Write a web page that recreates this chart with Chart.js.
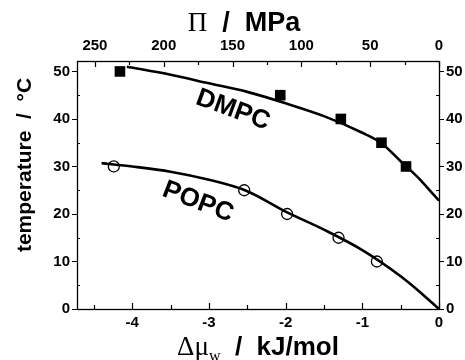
<!DOCTYPE html>
<html>
<head>
<meta charset="utf-8">
<script src="https://cdn.jsdelivr.net/npm/chart.js@4.4.0/dist/chart.umd.min.js"></script>
<style>
  html, body { margin: 0; padding: 0; background: #fff; }
</style>
</head>
<body>
<canvas id="phaseChart" width="465" height="360"></canvas>
<script>
// measured transition temperatures vs water chemical potential (kJ/mol)
const dmpcMu = [-4.16, -2.07, -1.28, -0.75, -0.43];
const dmpcT = [50, 45, 40, 35, 30];
const popcMu = [-4.24, -2.54, -1.98, -1.31, -0.81];
const popcT = [30, 25, 20, 15, 10];

// fitted curves through the measurements
const dmpcFitMu = [-4.07, -3.5, -3.0, -2.5, -2.0, -1.5, -1.0, -0.75, -0.5, -0.25, -0.1, 0];
const dmpcFitT = [51.0, 49.3, 47.5, 45.7, 43.3, 40.6, 37.1, 34.9, 31.1, 27.3, 24.6, 22.8];
const popcFitMu = [-4.40, -4.0, -3.5, -3.0, -2.5, -2.0, -1.5, -1.0, -0.5, -0.25, 0];
const popcFitT = [30.7, 30.0, 28.9, 27.2, 24.8, 20.5, 16.7, 12.4, 6.9, 3.6, 0];

// axis ticks
const muTicks = [-4, -3, -2, -1, 0];
const muMinor = [-4.5, -3.5, -2.5, -1.5, -0.5];
const tempTicks = [0, 10, 20, 30, 40, 50];
const tempMinor = [5, 15, 25, 35, 45];
const piTicks = [250, 200, 150, 100, 50, 0];
const piMinor = [225, 175, 125, 75, 25];

const MU_MIN = -4.72;
const PI_MAX = 263;
const T_MAX = 52.2;

const SANS = '"Liberation Sans", Arial, Helvetica, sans-serif';
const SERIF = '"Liberation Serif", "Times New Roman", serif';

const pts = (xs, ys) => xs.map((x, i) => ({ x: x, y: ys[i] }));
const fixTicks = list => scale => { scale.ticks = list.map(v => ({ value: v })); };

// frame, inward/outward tick marks, axis titles and curve labels
const decorations = {
  id: 'decorations',
  afterDraw(chart) {
    const ctx = chart.ctx;
    const a = chart.chartArea;
    const s = chart.scales;
    ctx.save();
    ctx.strokeStyle = '#000';
    ctx.lineWidth = 1.3;
    ctx.strokeRect(a.left + 0.5, a.top + 0.5, a.right - a.left, a.bottom - a.top);

    ctx.lineWidth = 1.2;
    ctx.beginPath();
    const vTick = (scale, vals, y0, len) => vals.forEach(v => {
      const px = Math.round(scale.getPixelForValue(v)) + 0.5;
      ctx.moveTo(px, y0); ctx.lineTo(px, y0 + len);
    });
    const hTick = (scale, vals, x0, len) => vals.forEach(v => {
      const py = Math.round(scale.getPixelForValue(v)) + 0.5;
      ctx.moveTo(x0, py); ctx.lineTo(x0 + len, py);
    });
    vTick(s.x, muTicks, a.bottom, -6);
    vTick(s.x, muMinor, a.bottom, -4);
    vTick(s.x2, piTicks, a.top, 6);
    vTick(s.x2, piMinor, a.top, 4);
    hTick(s.y, tempTicks, a.left, -5);
    hTick(s.y, tempMinor, a.left, 3);
    hTick(s.y2, tempTicks, a.right, 5);
    hTick(s.y2, tempMinor, a.right, -3);
    ctx.stroke();

    ctx.fillStyle = '#000';
    ctx.textBaseline = 'alphabetic';

    // top title: Π / MPa
    const topParts = [
      { t: 'Π', f: '27px ' + SERIF },
      { t: '  /  MPa', f: 'bold 27px ' + SANS }
    ];
    drawRun(ctx, topParts, 244, 31);

    // bottom title: Δμw / kJ/mol
    const botParts = [
      { t: 'Δμ', f: '27px ' + SERIF },
      { t: 'w', f: '16px ' + SERIF, dy: 6 },
      { t: '  /  kJ/mol', f: 'bold 26px ' + SANS }
    ];
    drawRun(ctx, botParts, 258, 355);

    // left title
    ctx.save();
    ctx.translate(31, 165);
    ctx.rotate(-Math.PI / 2);
    ctx.font = 'bold 21px ' + SANS;
    ctx.textAlign = 'center';
    ctx.fillText('temperature  /  °C', 0, 0);
    ctx.restore();

    // curve labels
    const label = (txt, x, y, deg) => {
      ctx.save();
      ctx.translate(x, y);
      ctx.rotate(deg * Math.PI / 180);
      ctx.font = 'bold 26px ' + SANS;
      ctx.textAlign = 'center';
      ctx.textBaseline = 'middle';
      ctx.fillText(txt, 0, 0);
      ctx.restore();
    };
    label('DMPC', 233, 110, 20);
    label('POPC', 198, 202, 21);
    ctx.restore();
  }
};

// draws mixed-font text centred on cx
function drawRun(ctx, parts, cx, y) {
  let total = 0;
  parts.forEach(p => { ctx.font = p.f; p.w = ctx.measureText(p.t).width; total += p.w; });
  let x = cx - total / 2;
  ctx.textAlign = 'left';
  parts.forEach(p => {
    ctx.font = p.f;
    ctx.fillText(p.t, x, y + (p.dy || 0));
    x += p.w;
  });
}

const tickFont = { family: SANS, size: 15, weight: 'bold' };
const noGrid = { display: false, drawTicks: false };

new Chart(document.getElementById('phaseChart'), {
  type: 'scatter',
  data: {
    datasets: [
      {
        label: 'DMPC fit',
        data: pts(dmpcFitMu, dmpcFitT),
        showLine: true,
        pointRadius: 0,
        borderColor: '#000',
        borderWidth: 2.6,
        cubicInterpolationMode: 'monotone'
      },
      {
        label: 'POPC fit',
        data: pts(popcFitMu, popcFitT),
        showLine: true,
        pointRadius: 0,
        borderColor: '#000',
        borderWidth: 2.6,
        cubicInterpolationMode: 'monotone'
      },
      {
        label: 'DMPC',
        data: pts(dmpcMu, dmpcT),
        pointStyle: 'rect',
        pointRadius: 7.5,
        backgroundColor: '#000',
        borderColor: '#000',
        borderWidth: 0
      },
      {
        label: 'POPC',
        data: pts(popcMu, popcT),
        pointStyle: 'circle',
        pointRadius: 5.5,
        backgroundColor: 'rgba(0,0,0,0)',
        borderColor: '#000',
        borderWidth: 1.3
      }
    ]
  },
  options: {
    responsive: false,
    animation: false,
    events: [],
    layout: { padding: 0 },
    plugins: { legend: { display: false }, tooltip: { enabled: false } },
    scales: {
      x: {
        type: 'linear', position: 'bottom', min: MU_MIN, max: 0,
        afterBuildTicks: fixTicks(muTicks),
        afterFit: s => { s.height = 51; },
        grid: noGrid, border: { display: false },
        ticks: { font: tickFont, color: '#000', padding: 5, maxRotation: 0 }
      },
      x2: {
        type: 'linear', position: 'top', min: 0, max: PI_MAX, reverse: true,
        afterBuildTicks: fixTicks(piTicks),
        afterFit: s => { s.height = 61; },
        grid: noGrid, border: { display: false },
        ticks: { font: tickFont, color: '#000', padding: 6, maxRotation: 0 }
      },
      y: {
        type: 'linear', position: 'left', min: 0, max: T_MAX,
        afterBuildTicks: fixTicks(tempTicks),
        afterFit: s => { s.width = 77; },
        grid: noGrid, border: { display: false },
        ticks: { font: tickFont, color: '#000', padding: 7 }
      },
      y2: {
        type: 'linear', position: 'right', min: 0, max: T_MAX,
        afterBuildTicks: fixTicks(tempTicks),
        afterFit: s => { s.width = 26; },
        grid: noGrid, border: { display: false },
        ticks: { font: tickFont, color: '#000', padding: 7 }
      }
    }
  },
  plugins: [decorations]
});
</script>
</body>
</html>
